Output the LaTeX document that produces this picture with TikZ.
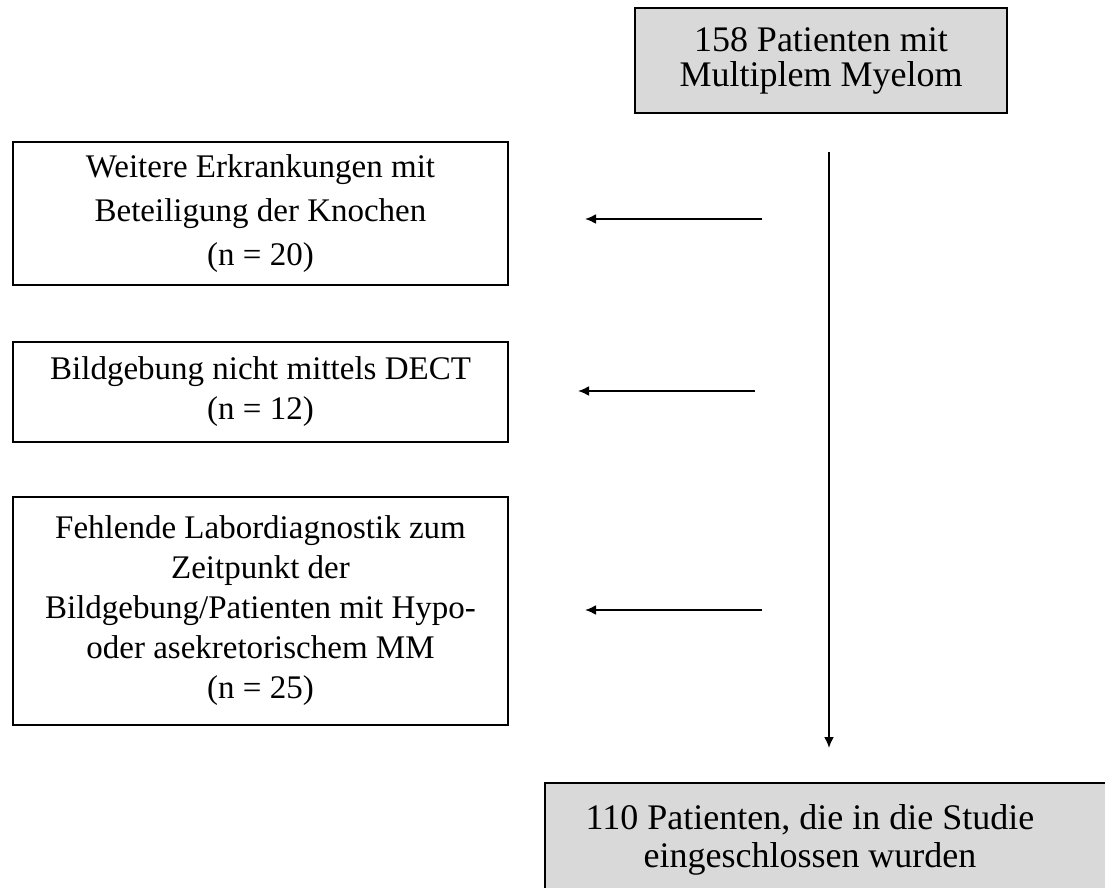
\documentclass[tikz,border=0pt]{standalone}
\usepackage{fontspec}
\setmainfont{Liberation Serif}
\usetikzlibrary{arrows.meta}
\definecolor{boxgray}{HTML}{D9D9D9}
\tikzset{
	exclbox/.style={draw=black, line width=2pt, fill=white, align=center, minimum width=495pt, inner sep=0pt, font=\fontsize{33}{40}\selectfont},
	mainbox/.style={draw=black, line width=2pt, fill=boxgray, align=center, inner sep=0pt, font=\fontsize{36}{35}\selectfont},
	flowarrow/.style={line width=2pt, -{Latex[length=11pt,width=10pt]}}
}

\begin{document}
\begin{tikzpicture}[x=1pt, y=-1pt]
			%%%%% START %%%%%
			\useasboundingbox (0, 0) rectangle (1105, 888);
			
			\node[mainbox, minimum width=372pt, minimum height=105pt] (start) at (821, 60.5) {158 Patienten mit\\Multiplem Myelom};
			
			\node[exclbox, minimum height=143pt, font=\fontsize{33}{44}\selectfont] (excla) at (260.5, 213.5) {Weitere Erkrankungen mit\\Beteiligung der Knochen\\(n = 20)};
			\node[exclbox, minimum height=100pt] (exclb) at (260.5, 392) {Bildgebung nicht mittels DECT\\(n = 12)};
			\node[exclbox, minimum height=228pt] (exclc) at (260.5, 611) {Fehlende Labordiagnostik zum\\Zeitpunkt der\\Bildgebung/Patienten mit Hypo-\\oder asekretorischem MM\\(n = 25)};
			
			\draw[line width=2pt, fill=boxgray] (545, 783) rectangle (1120, 900);
			\node[mainbox, draw=none, fill=none, font=\fontsize{36}{38}\selectfont] (incl) at (810, 840) {110 Patienten, die in die Studie\\eingeschlossen wurden};
			
			\coordinate (flowtop) at (829, 152);
			\coordinate (flowend) at (829, 748);
			\draw[flowarrow] (flowtop) -- (flowend);
			
			\coordinate (exaR) at (762, 219);
			\coordinate (exaL) at (585, 219);
			\coordinate (exbR) at (755, 391);
			\coordinate (exbL) at (578, 391);
			\coordinate (excR) at (762, 610);
			\coordinate (excL) at (585, 610);
			\draw[flowarrow] (exaR) -- (exaL);
			\draw[flowarrow] (exbR) -- (exbL);
			\draw[flowarrow] (excR) -- (excL);
			
			%%%%% END %%%%%
		\end{tikzpicture}
\end{document}
